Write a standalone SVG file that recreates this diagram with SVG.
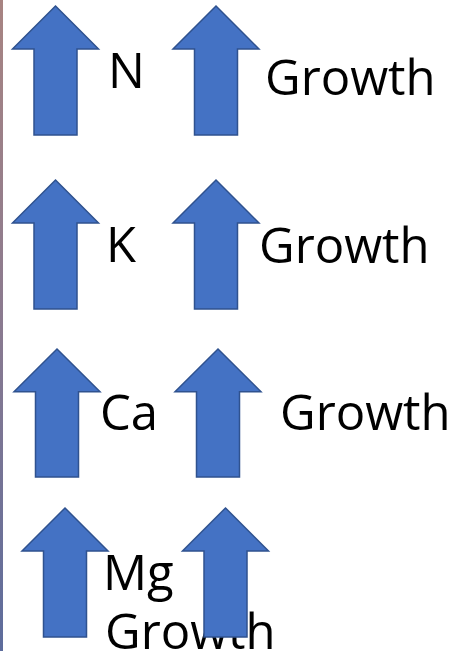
<svg xmlns="http://www.w3.org/2000/svg" width="453" height="651" viewBox="0 0 453 651">
<defs>
<linearGradient id="edge" x1="0" y1="0" x2="0" y2="1">
<stop offset="0" stop-color="#a88482"/>
<stop offset="0.5" stop-color="#8a7a90"/>
<stop offset="1" stop-color="#5d6c9c"/>
</linearGradient>
<path id="up" d="M0,0 L43,43 L21.5,43 L21.5,129 L-21.5,129 L-21.5,43 L-43,43 Z"/>
</defs>
<style>
.arr{fill:#4472C4;stroke:#2F528F;stroke-width:1.5;stroke-linejoin:miter}
.lbl{font-family:"Open Sans","Noto Sans","Liberation Sans",sans-serif;font-size:49px;fill:#000}
</style>
<rect width="453" height="651" fill="#fff"/>
<rect x="0" y="0" width="3" height="651" fill="url(#edge)"/>
<g id="row1">
<g id="n-arrow"><use href="#up" class="arr" transform="translate(55.5,6) scale(1,1)"/></g>
<g id="n-label"><text class="lbl" x="108" y="88">N</text></g>
<g id="growth1-arrow"><use href="#up" class="arr" transform="translate(216,6)"/></g>
<g id="growth1-label"><text class="lbl" x="265" y="95">Growth</text></g>
</g>
<g id="row2">
<g id="k-arrow"><use href="#up" class="arr" transform="translate(55.5,180)"/></g>
<g id="k-label"><text class="lbl" x="106" y="262">K</text></g>
<g id="growth2-arrow"><use href="#up" class="arr" transform="translate(216,180)"/></g>
<g id="growth2-label"><text class="lbl" x="259" y="263">Growth</text></g>
</g>
<g id="row3">
<g id="ca-arrow"><use href="#up" class="arr" transform="translate(57,349) scale(1,0.992)"/></g>
<g id="ca-label"><text class="lbl" x="100" y="430">Ca</text></g>
<g id="growth3-arrow"><use href="#up" class="arr" transform="translate(218,349) scale(1,0.992)"/></g>
<g id="growth3-label"><text class="lbl" x="280" y="430">Growth</text></g>
</g>
<g id="row4">
<g id="mg-arrow"><use href="#up" class="arr" transform="translate(65,508)"/></g>
<g id="mg-label"><text class="lbl" x="103" y="590">Mg</text><text class="lbl" x="105" y="649">Growth</text></g>
<g id="growth4-arrow"><use href="#up" class="arr" transform="translate(225.5,508)"/></g>
</g>
<g id="connectors"/>
</svg>
